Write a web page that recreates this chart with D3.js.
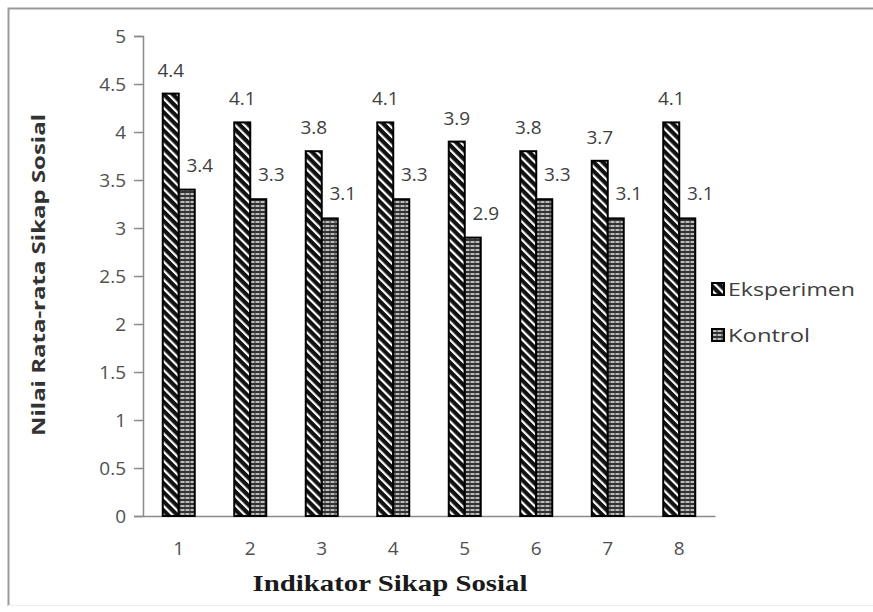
<!DOCTYPE html>
<html>
<head>
<meta charset="utf-8">
<script src="https://cdn.jsdelivr.net/npm/d3@7/dist/d3.min.js"></script>
<style>
  body { margin: 0; background: #fff; }
  svg text { font-family: "Open Sans", sans-serif; }
</style>
</head>
<body>
<div id="chart"></div>
<script>
var categories = ["1", "2", "3", "4", "5", "6", "7", "8"]
var eksperimen = [4.4, 4.1, 3.8, 4.1, 3.9, 3.8, 3.7, 4.1]
var kontrol = [3.4, 3.3, 3.1, 3.3, 2.9, 3.3, 3.1, 3.1]
var yTicks = [0, 0.5, 1, 1.5, 2, 2.5, 3, 3.5, 4, 4.5, 5]
var seriesNames = ["Eksperimen", "Kontrol"]

var width = 873, height = 612

var svg = d3.select("#chart").append("svg")
  .attr("width", width)
  .attr("height", height)

// frame
svg.append("path")
  .attr("d", "M8.5,606 L8.5,8.5 L873,8.5")
  .attr("fill", "none")
  .attr("stroke", "#9a9a9a")
  .attr("stroke-width", 2)
svg.append("line")
  .attr("x1", 8).attr("x2", 873).attr("y1", 605.5).attr("y2", 605.5)
  .attr("stroke", "#eeeeee")

// patterns
var defs = svg.append("defs")
var hatch = defs.append("pattern")
  .attr("id", "hatch")
  .attr("patternUnits", "userSpaceOnUse")
  .attr("width", 6.4).attr("height", 6.4)
  .attr("patternTransform", "rotate(-45)")
hatch.append("rect").attr("width", 6.4).attr("height", 6.4).attr("fill", "#111")
hatch.append("rect").attr("x", 0).attr("width", 2.2).attr("height", 6.4).attr("fill", "#fff")

var brick = defs.append("pattern")
  .attr("id", "brick")
  .attr("patternUnits", "userSpaceOnUse")
  .attr("width", 5).attr("height", 4)
brick.append("rect").attr("width", 5).attr("height", 4).attr("fill", "#333")
brick.append("rect").attr("x", 0.5).attr("y", 1.2).attr("width", 4).attr("height", 1.6).attr("fill", "#ddd")

var x = d3.scaleBand()
  .domain(categories)
  .range([143, 715])

var y = d3.scaleLinear()
  .domain([0, 5])
  .range([516, 36])

var barW = 16

// y axis
var yAxis = svg.append("g")
  .attr("transform", "translate(143,0)")
  .call(d3.axisLeft(y).tickValues(yTicks).tickSize(9).tickPadding(8)
    .tickFormat(function(d) { return d3.format("")(d) }))
yAxis.select(".domain").attr("stroke", "#8a8a8a").attr("stroke-width", 1.5)
yAxis.selectAll(".tick line").attr("stroke", "#8a8a8a").attr("stroke-width", 1.5)
yAxis.selectAll(".tick text")
  .attr("fill", "#505050")
  .style("font-size", "19px")
  .style("font-family", "Open Sans, sans-serif")

// x axis
var xAxis = svg.append("g")
  .attr("transform", "translate(0,516)")
  .call(d3.axisBottom(x).tickSize(0).tickPadding(26))
xAxis.select(".domain").attr("stroke", "#8a8a8a").attr("stroke-width", 1.5)
xAxis.selectAll(".tick text")
  .attr("fill", "#505050")
  .style("font-size", "19px")
  .style("font-family", "Open Sans, sans-serif")

// bars
var mid = function(i) { return x(categories[i]) + x.bandwidth() / 2 }

svg.append("g").selectAll("rect")
  .data(eksperimen)
  .enter().append("rect")
    .attr("x", function(d, i) { return mid(i) - barW })
    .attr("y", function(d) { return y(d) })
    .attr("width", barW)
    .attr("height", function(d) { return y(0) - y(d) })
    .attr("fill", "url(#hatch)")
    .attr("stroke", "#000")
    .attr("stroke-width", 2)

svg.append("g").selectAll("rect")
  .data(kontrol)
  .enter().append("rect")
    .attr("x", function(d, i) { return mid(i) })
    .attr("y", function(d) { return y(d) })
    .attr("width", barW)
    .attr("height", function(d) { return y(0) - y(d) })
    .attr("fill", "url(#brick)")
    .attr("stroke", "#000")
    .attr("stroke-width", 2)

// value labels
svg.append("g").selectAll("text")
  .data(eksperimen)
  .enter().append("text")
    .attr("x", function(d, i) { return mid(i) - barW / 2 })
    .attr("y", function(d) { return y(d) - 17 })
    .attr("text-anchor", "middle")
    .attr("fill", "#404040")
    .style("font-size", "19px")
    .text(function(d) { return d.toFixed(1) })

svg.append("g").selectAll("text")
  .data(kontrol)
  .enter().append("text")
    .attr("x", function(d, i) { return mid(i) + 21 })
    .attr("y", function(d) { return y(d) - 18 })
    .attr("text-anchor", "middle")
    .attr("fill", "#404040")
    .style("font-size", "19px")
    .text(function(d) { return d.toFixed(1) })

// axis titles
svg.append("text")
  .attr("transform", "translate(45,275) rotate(-90)")
  .attr("text-anchor", "middle")
  .attr("fill", "#333")
  .attr("textLength", 322)
  .attr("lengthAdjust", "spacingAndGlyphs")
  .style("font-size", "17px")
  .style("font-weight", "bold")
  .text("Nilai Rata-rata Sikap  Sosial")

svg.append("text")
  .attr("x", 390)
  .attr("y", 591)
  .attr("text-anchor", "middle")
  .attr("fill", "#1a1a1a")
  .attr("textLength", 275)
  .attr("lengthAdjust", "spacingAndGlyphs")
  .style("font-family", "Liberation Serif, serif")
  .style("font-size", "24px")
  .style("font-weight", "bold")
  .text("Indikator Sikap Sosial")

// legend
var legend = svg.append("g").selectAll("g")
  .data(seriesNames)
  .enter().append("g")
    .attr("transform", function(d, i) { return "translate(712," + (283 + i * 46) + ")" })
legend.append("rect")
  .attr("width", 12).attr("height", 12)
  .attr("fill", function(d, i) { return i === 0 ? "url(#hatch)" : "url(#brick)" })
  .attr("stroke", "#000")
  .attr("stroke-width", 2)
legend.append("text")
  .attr("x", 16)
  .attr("y", 13)
  .attr("fill", "#404040")
  .attr("textLength", function(d, i) { return i === 0 ? 127 : 82 })
  .attr("lengthAdjust", "spacingAndGlyphs")
  .style("font-size", "19px")
  .text(function(d) { return d })
</script>
</body>
</html>
